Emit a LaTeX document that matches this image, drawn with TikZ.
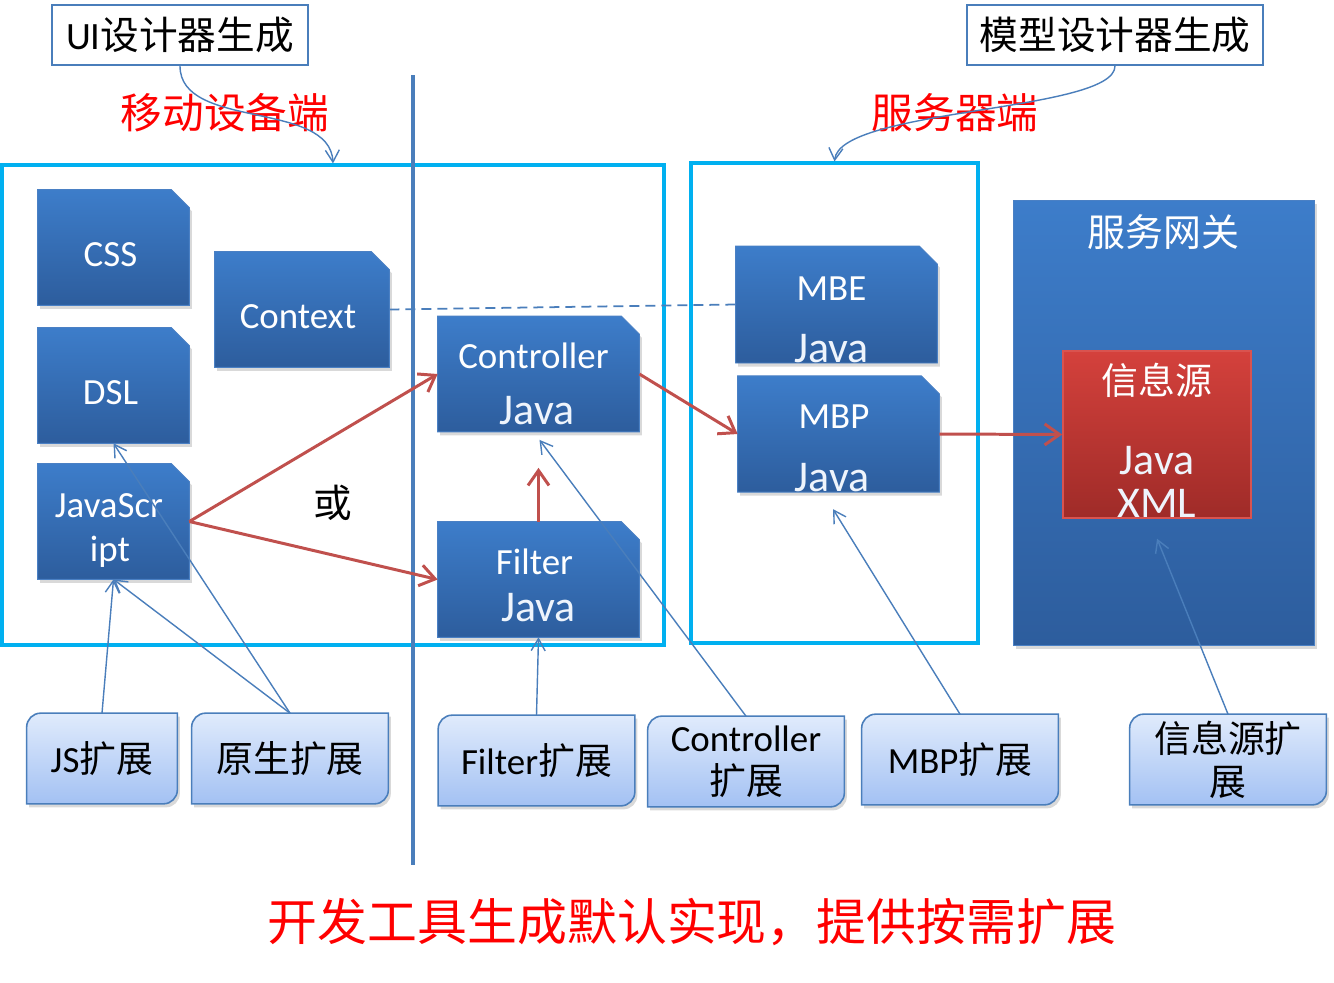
\documentclass[tikz,border=0pt]{standalone}
\usepackage{fontspec}
\setmainfont{Carlito}
\newfontfamily\zhfont{Noto Sans CJK SC}
\usepackage{tikz}
\usetikzlibrary{positioning,arrows.meta,backgrounds,shadows}
\definecolor{cyanedge}{HTML}{00B0F0}
\definecolor{steel}{HTML}{4A7EBB}
\definecolor{doctop}{HTML}{3D7DCA}
\definecolor{docbot}{HTML}{2D5D9D}
\definecolor{docedge}{HTML}{4A80C4}
\definecolor{srctop}{HTML}{D4413C}
\definecolor{srcbot}{HTML}{9F2B28}
\definecolor{srcedge}{HTML}{D9534F}
\definecolor{exttop}{HTML}{E0EBFC}
\definecolor{extbot}{HTML}{A3C1F3}
\definecolor{redline}{HTML}{C0504D}
\definecolor{javatint}{HTML}{EEF4FC}
\newcommand\java[1]{{\color{javatint}\fontsize{25}{30}\selectfont #1}}
\newcommand\lift[1]{\rule{0pt}{#1}}
\newcommand\nudge[1]{\hspace*{#1}}

\begin{document}
\begin{tikzpicture}[x=0.2mm,y=-0.2mm,
  font=\fontsize{21}{25}\selectfont,
  doc/.style={minimum width=30.2mm,minimum height=23mm,inner sep=0pt,align=center,text=white},
  wide/.style={doc,minimum width=40.2mm},
  ext/.style={minimum width=39.2mm,minimum height=18mm,inner sep=0pt,align=center,font=\fontsize{21}{24.5}\selectfont},
  tag/.style={draw=steel,line width=1.1pt,fill=white,minimum height=12mm,inner sep=0pt,font=\zhfont\fontsize{22}{26}\selectfont},
  zone/.style={draw=cyanedge,line width=1.8pt,minimum height=96mm,inner sep=0pt},
  head/.style={text=red,font=\zhfont\fontsize{23.7}{28}\selectfont},
  arr/.style={-{Straight Barb[length=3mm,width=4.2mm]},line width=1.7pt,redline},
  link/.style={-{Straight Barb[length=2.4mm,width=2.8mm]},line width=.8pt,steel},
  docfill/.style={top color=doctop,bottom color=docbot,draw=docedge,line width=.5pt,
    drop shadow={opacity=.3,shadow xshift=.5mm,shadow yshift=-.7mm}},
  extfill/.style={top color=exttop,bottom color=extbot,draw=steel,line width=.9pt,
    drop shadow={opacity=.3,shadow xshift=.5mm,shadow yshift=-.7mm}}
]
\useasboundingbox (0,0) rectangle (1334,982);

% generators and the two sides
\node[tag,minimum width=51.2mm] (uitag) at (180,35) {{\rmfamily UI}设计器生成};
\node[tag,minimum width=59.2mm] (mdltag) at (1115,35) {模型设计器生成};
\node[head] (mobhead) at (225,113) {移动设备端};
\node[head] (srvhead) at (955,113) {服务器端};
\node[zone,minimum width=132.4mm] (mob) at (333,405) {};
\node[zone,minimum width=57.4mm] (srv) at (834.5,403) {};
\draw[steel,line width=2.3pt] (413,75) -- (413,865);

% generated parts
\node[doc] (css) at (113.5,247.5) {\lift{21.4pt}CSS\nudge{1.2mm}};
\node[doc,minimum width=34.8mm] (ctx) at (302,309.5) {\lift{21.4pt}Context\nudge{1.6mm}};
\node[doc] (dsl) at (113.5,385.5) {\lift{21.4pt}DSL\nudge{1.2mm}};
\node[doc] (js) at (113.5,521.5) {\lift{23.8pt}JavaScr\nudge{1.8mm}\\ipt\nudge{1.4mm}};
\node[wide] (ctl) at (538.5,374) {\lift{26pt}Controller\nudge{2mm}\\[6.6pt]\java{Java}\nudge{.6mm}};
\node[wide] (flt) at (538.5,579.5) {\lift{21.4pt}Filter\nudge{1.6mm}\\[1.5pt]\java{Java}};
\node[wide] (mbe) at (836.5,304.5) {\lift{31pt}MBE\nudge{2mm}\\[10pt]\java{Java}\nudge{2mm}};
\node[wide] (mbp) at (838.5,434) {\lift{30pt}MBP\nudge{1.8mm}\\[10.6pt]\java{Java}\nudge{2.6mm}};
\node[minimum width=60.2mm,minimum height=89mm,top color=doctop,bottom color=docbot,draw=docedge,
  drop shadow={opacity=.3,shadow xshift=.5mm,shadow yshift=-.7mm}] (gw) at (1163.5,422.5) {};
\node[text=white,font=\zhfont\fontsize{21.6}{26}\selectfont] (gwtitle) at ([yshift=-6.4mm]gw.north) {服务网关};
\node[minimum width=37.6mm,minimum height=33mm,inner sep=0pt,align=center,top color=srctop,bottom color=srcbot,
  draw=srcedge,line width=.9pt,text=white] (src) at (1157,434.5)
  {\lift{25pt}{\zhfont 信息源}\\[20pt]\java{Java}\\\java{XML}};
\node[font=\zhfont\fontsize{22}{26}\selectfont] (orlabel) at (333,503) {或};

% extension points
\node[ext,minimum width=30mm] (jsx) at (102,758.5) {JS{\zhfont 扩展}};
\node[ext] (nat) at (290,758.5) {{\zhfont 原生扩展}};
\node[ext] (fix) at (536.5,760.5) {Filter{\zhfont 扩展}};
\node[ext] (cox) at (746,761.5) {Controller\\{\zhfont 扩展}};
\node[ext] (mbx) at (960,759.5) {MBP{\zhfont 扩展}};
\node[ext] (srx) at (1228,759.5) {{\zhfont 信息源扩}\\{\zhfont 展}};

\node[text=red,font=\zhfont\fontsize{28.4}{34}\selectfont] (summary) at (692,922) {开发工具生成默认实现，提供按需扩展};

\begin{scope}[on background layer]
  \foreach \n in {css,ctx,dsl,js,ctl,flt,mbe,mbp}
    \shade[docfill] (\n.south west) -- (\n.north west) -- ([xshift=-3.6mm]\n.north east)
      -- ([yshift=-3.6mm]\n.north east) -- (\n.south east) -- cycle;
  \foreach \n in {jsx,nat,fix,cox,mbx,srx}
    \shade[extfill] ([yshift=-2.8mm]\n.north west) arc[start angle=180,end angle=90,radius=2.8mm]
      -- (\n.north east) -- ([yshift=2.8mm]\n.south east) arc[start angle=0,end angle=-90,radius=2.8mm]
      -- (\n.south west) -- cycle;
\end{scope}

% flow
\draw[steel,line width=1pt,dash pattern=on 2mm off 1.2mm] (ctx.east) -- (mbe.west);
\draw[arr] (js.east) -- (ctl.west);
\draw[arr] (js.east) -- (flt.west);
\draw[arr,shorten >=7.2mm] (flt.north) -- (ctl.south);
\draw[arr] (ctl.east) -- (mbp.west);
\draw[arr] (mbp.east) -- (src.west);

% extension links
\draw[link] (uitag.south) .. controls (180,130) and (330,100) .. (mob.north);
\draw[link] (mdltag.south) .. controls (1115,112) and (840,108) .. (srv.north);
\draw[link] (jsx.north) -- (js.south);
\draw[link] (nat.north) -- (js.south);
\draw[link] (nat.north) -- (dsl.south);
\draw[link] (fix.north) -- (flt.south);
\draw[link,shorten >=2mm] (cox.north) -- ([xshift=-1mm]ctl.south);
\draw[link,shorten >=4mm] (mbx.north) -- ([xshift=-3.2mm]mbp.south);
\draw[link,shorten >=4.3mm] (srx.north) -- ([xshift=-1.6mm]src.south);
\end{tikzpicture}
\end{document}
